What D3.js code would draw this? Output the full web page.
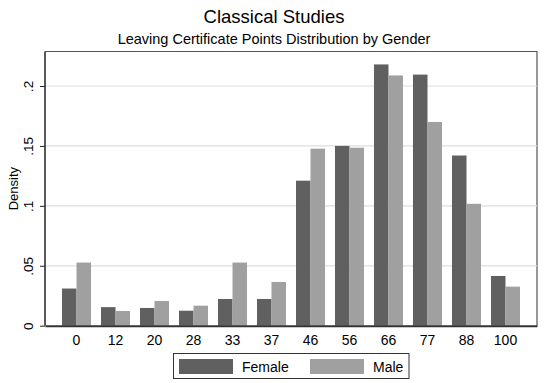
<!DOCTYPE html>
<html>
<head>
<meta charset="utf-8">
<script src="https://cdn.jsdelivr.net/npm/d3@7"></script>
<style>
  html, body { margin: 0; padding: 0; background: #fff; }
  svg { display: block; font-family: "Liberation Sans", Arial, sans-serif; }
</style>
</head>
<body>
<svg id="chart" width="545" height="383"></svg>
<script>
// Leaving Certificate points bands
const categories = ["0", "12", "20", "28", "33", "37", "46", "56", "66", "77", "88", "100"];
// Density by gender
const female = [0.031, 0.0155, 0.0148, 0.0125, 0.0223, 0.0223, 0.121, 0.150, 0.218, 0.2095, 0.142, 0.0415];
const male   = [0.0527, 0.0123, 0.0206, 0.0167, 0.0527, 0.0365, 0.1477, 0.1485, 0.2088, 0.170, 0.1017, 0.0326];
const series = ["Female", "Male"];
const yTicks = [0, 0.05, 0.1, 0.15, 0.2];
const yTickLabels = ["0", ".05", ".1", ".15", ".2"];
const colors = { Female: "#606060", Male: "#a0a0a0" };

const svg = d3.select("#chart");
const plot = { left: 45, right: 537, top: 51.5, bottom: 325.7 };

const x = d3.scaleBand().domain(categories)
  .range([plot.left, plot.right]).paddingInner(0.256).paddingOuter(0.436);
const xs = d3.scaleBand().domain(series).range([0, x.bandwidth()]);
const y = d3.scaleLinear().domain([0, 0.2]).range([plot.bottom, 86]);

// plot region outline (top and right)
svg.append("path")
  .attr("d", `M${plot.left},${plot.top}H${plot.right}V${plot.bottom}`)
  .attr("fill", "none").attr("stroke", "#555").attr("stroke-width", 1.2);

// gridlines
svg.append("g").selectAll("line").data(yTicks.slice(1)).join("line")
  .attr("x1", plot.left).attr("x2", plot.right)
  .attr("y1", d => y(d)).attr("y2", d => y(d))
  .attr("stroke", "#dedede").attr("stroke-width", 1.2);

// bars
const rows = categories.map((c, i) => ({ c, Female: female[i], Male: male[i] }));
const groups = svg.append("g").selectAll("g").data(rows).join("g")
  .attr("transform", d => `translate(${x(d.c)},0)`);
groups.selectAll("rect").data(d => series.map(s => ({ s, v: d[s] }))).join("rect")
  .attr("x", d => xs(d.s))
  .attr("width", xs.bandwidth())
  .attr("y", d => y(d.v))
  .attr("height", d => y(0) - y(d.v))
  .attr("fill", d => colors[d.s]);

// y axis
const yAxis = svg.append("g").attr("transform", `translate(${plot.left},0)`)
  .call(d3.axisLeft(y).tickValues(yTicks).tickFormat((d, i) => yTickLabels[i]).tickSize(5).tickPadding(4));
yAxis.select(".domain").attr("stroke", "#222").attr("stroke-width", 1.5)
  .attr("d", `M0,${plot.top}V${plot.bottom}`);
yAxis.selectAll(".tick line").attr("stroke", "#222");
yAxis.selectAll(".tick text")
  .attr("font-size", 13.5).attr("fill", "#000")
  .attr("text-anchor", "middle")
  .attr("x", 0).attr("dy", 0)
  .attr("transform", "translate(-12,0) rotate(-90)");

// x axis
const xAxis = svg.append("g").attr("transform", `translate(0,${plot.bottom})`)
  .call(d3.axisBottom(x).tickSize(0).tickPadding(9));
xAxis.select(".domain").attr("stroke", "#333").attr("stroke-width", 2);
xAxis.selectAll(".tick text").attr("font-size", 14).attr("fill", "#000");

// axis title
svg.append("text")
  .attr("transform", `translate(18,${(plot.top + plot.bottom) / 2}) rotate(-90)`)
  .attr("text-anchor", "middle").attr("font-size", 13).text("Density");

// titles
svg.append("text").attr("x", 274).attr("y", 23).attr("text-anchor", "middle")
  .attr("font-size", 18.5).text("Classical Studies");
svg.append("text").attr("x", 274).attr("y", 44).attr("text-anchor", "middle")
  .attr("font-size", 14.5).text("Leaving Certificate Points Distribution by Gender");

// legend
const legend = svg.append("g");
legend.append("rect").attr("x", 173.5).attr("y", 353.5).attr("width", 235.5).attr("height", 25)
  .attr("fill", "#fff").attr("stroke", "#333").attr("stroke-width", 1);
const items = [
  { s: "Female", sx: 179, tx: 242 },
  { s: "Male", sx: 310, tx: 373 }
];
items.forEach(it => {
  legend.append("rect").attr("x", it.sx).attr("y", 359).attr("width", 54).attr("height", 15)
    .attr("fill", colors[it.s]);
  legend.append("text").attr("x", it.tx).attr("y", 371.5).attr("font-size", 14).text(it.s);
});
</script>
</body>
</html>
